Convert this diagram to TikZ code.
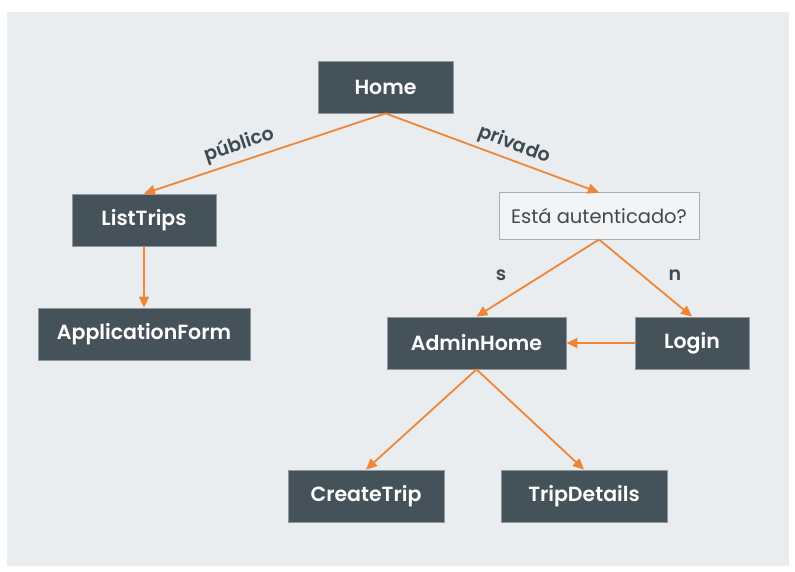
\documentclass[tikz,border=0pt]{standalone}
\usepackage{fontspec}
\setmainfont{Poppins}
\newfontfamily\semib{Poppins SemiBold}
\usetikzlibrary{arrows.meta}
\definecolor{bgc}{HTML}{E9EDF0}
\definecolor{boxc}{HTML}{46525A}
\definecolor{boxedge}{HTML}{8E989E}
\definecolor{arr}{HTML}{F08536}
\definecolor{lblc}{HTML}{3E4A52}
\definecolor{qedge}{HTML}{A3AFB7}
\begin{document}
\begin{tikzpicture}[x=1pt,y=-1pt,
  darkbox/.style={draw=boxedge, line width=0.8pt, fill=boxc, text=white, inner sep=0pt,
    minimum height=52pt, font=\semib\fontsize{20.5}{24}\selectfont},
  qbox/.style={draw=qedge, line width=1pt, fill=bgc!60!white, text=lblc, inner sep=0pt,
    minimum height=46pt, font=\fontsize{19.5}{23}\selectfont},
  conn/.style={draw=arr, line width=1.8pt, -{Triangle[length=11pt,width=10pt]}},
  elabel/.style={text=lblc, font=\semib\fontsize{19}{22}\selectfont, inner sep=0pt}]
\useasboundingbox (0,0) rectangle (795,572);
\fill[white] (0,0) rectangle (795,572);
\fill[bgc] (7,12) rectangle (789,566);

\node[darkbox, minimum width=135pt] (home) at (385.5,87) {Home};
\node[darkbox, minimum width=144pt] (lt) at (144,220) {ListTrips};
\node[darkbox, minimum width=212pt] (af) at (144,334) {ApplicationForm};
\node[qbox, minimum width=200pt] (q) at (599,216) {Está autenticado?};
\node[darkbox, minimum width=179pt] (ah) at (476.5,343) {AdminHome};
\node[darkbox, minimum width=114pt] (lg) at (692,343) {Login};
\node[darkbox, minimum width=156pt] (ct) at (366,496) {CreateTrip};
\node[darkbox, minimum width=166pt] (td) at (584,496) {TripDetails};

\draw[conn] (home.south) -- (lt.north);
\draw[conn] (home.south) -- (q.north);
\draw[conn] (lt.south) -- (af.north);
\draw[conn] (q.south) -- (ah.north);
\draw[conn] (q.south) -- (lg.north);
\draw[conn] (lg.west) -- (ah.east);
\draw[conn] (ah.south) -- (ct.north);
\draw[conn] (ah.south) -- (td.north);

\node[elabel, rotate=18.5] (lpub) at (239,145) {público};
\node[elabel, rotate=-20.6] (lpriv) at (514,145) {privado};
\node[elabel] (ls) at (501,275) {s};
\node[elabel] (ln) at (675,275) {n};
\end{tikzpicture}
\end{document}
